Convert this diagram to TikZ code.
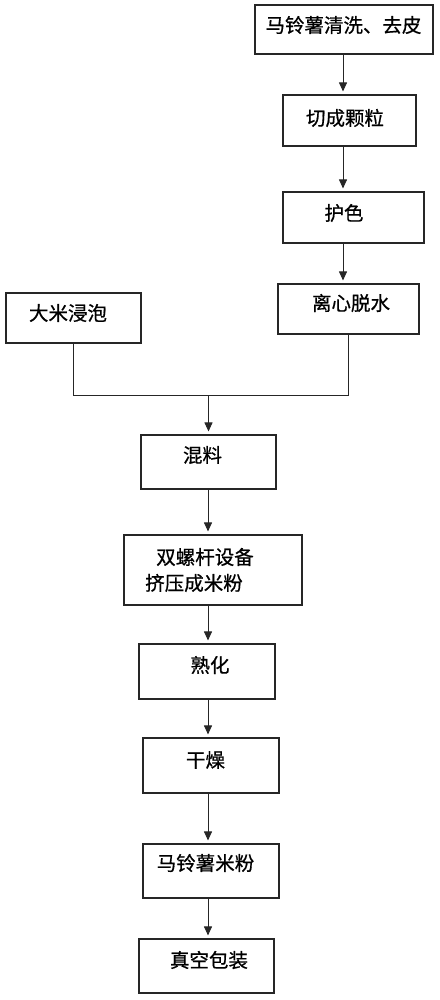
\documentclass[tikz,border=0pt]{standalone}
\usepackage{fontspec}
\setmainfont{Noto Sans CJK SC}[FakeBold=0.7]
\usetikzlibrary{arrows.meta,calc}
\begin{document}
\begin{tikzpicture}[x=1pt,y=1pt,
  box/.style={draw=black!85,line width=1.1pt,rectangle,inner sep=0pt},
  txt/.style={inner sep=0pt,font=\fontsize{19.5}{23}\selectfont,text=black},
  arr/.style={draw=black!85,line width=0.9pt,-{Triangle[length=9pt,width=8pt]},shorten >=3pt},
  ln/.style={draw=black!85,line width=0.9pt}]
\useasboundingbox (0,0) rectangle (439,-1000);
\coordinate (colR) at (343,0);
\coordinate (colL) at (208,0);
% boxes
\node[box,minimum width=178,minimum height=49] (b1) at (344,-29.5) {};
\node[box,minimum width=133,minimum height=51] (b2) at (349.5,-120.5) {};
\node[box,minimum width=141,minimum height=51] (b3) at (353.5,-217.5) {};
\node[box,minimum width=141,minimum height=50] (b4) at (348.5,-309) {};
\node[box,minimum width=135,minimum height=50] (rice) at (73.5,-318) {};
\node[box,minimum width=135,minimum height=54] (mix) at (208.5,-462) {};
\node[box,minimum width=178,minimum height=70] (ext) at (213,-570) {};
\node[box,minimum width=136,minimum height=55] (ripen) at (207,-671.5) {};
\node[box,minimum width=136,minimum height=55] (dry) at (211,-765.5) {};
\node[box,minimum width=136,minimum height=54] (flour) at (211,-871) {};
\node[box,minimum width=135,minimum height=54] (pack) at (206.5,-966) {};
% texts
\node[txt] (t1) at (343.5,-25) {马铃薯清洗、去皮};
\node[txt] (t2) at (345,-118) {切成颗粒};
\node[txt] (t3) at (344,-213) {护色};
\node[txt] (t4) at (351,-303) {离心脱水};
\node[txt] (trice) at (68,-313) {大米浸泡};
\node[txt] (tmix) at (202.5,-455) {混料};
\node[txt] (text1) at (205,-557) {双螺杆设备};
\node[txt] (text2) at (194,-583) {挤压成米粉};
\node[txt] (tripen) at (210,-665) {熟化};
\node[txt] (tdry) at (205.5,-760) {干燥};
\node[txt] (tflour) at (205.5,-863) {马铃薯米粉};
\node[txt] (tpack) at (209,-960) {真空包装};
% connectors
\draw[arr] (b1.south -| colR) -- (b2.north -| colR);
\draw[arr] (b2.south -| colR) -- (b3.north -| colR);
\draw[arr] (b3.south -| colR) -- (b4.north -| colR);
\coordinate (jl) at ($(rice.south)+(0,-52)$);
\coordinate (jr) at (b4.south |- jl);
\coordinate (jm) at (mix.north |- jl);
\draw[ln] (rice.south) -- (jl) -- (jr) -- (b4.south);
\draw[arr] (jm) -- (mix.north);
\draw[arr] (mix.south -| colL) -- (ext.north -| colL);
\draw[arr] (ext.south -| colL) -- (ripen.north -| colL);
\draw[arr] (ripen.south -| colL) -- (dry.north -| colL);
\draw[arr] (dry.south -| colL) -- (flour.north -| colL);
\draw[arr] (flour.south -| colL) -- (pack.north -| colL);
\end{tikzpicture}
\end{document}
